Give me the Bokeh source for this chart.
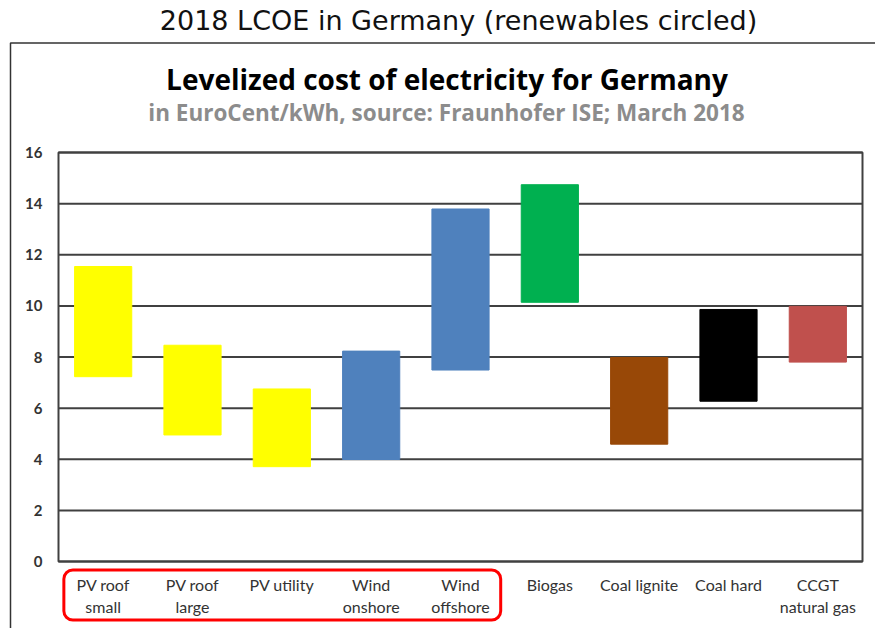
from bokeh.plotting import figure
from bokeh.models import ColumnDataSource, Label, BoxAnnotation, Range1d
from bokeh.core.properties import value
from bokeh.embed import file_html
from bokeh.resources import INLINE

categories = ["PV roof\nsmall", "PV roof\nlarge", "PV utility", "Wind\nonshore", "Wind\noffshore",
              "Biogas", "Coal lignite", "Coal hard", "CCGT\nnatural gas"]
lcoe_low = [7.23, 4.95, 3.71, 3.99, 7.49, 10.14, 4.59, 6.27, 7.80]
lcoe_high = [11.54, 8.46, 6.75, 8.23, 13.79, 14.74, 7.98, 9.86, 9.98]
bar_colors = ["#FFFF00", "#FFFF00", "#FFFF00", "#4F81BD", "#4F81BD",
              "#00B050", "#984807", "#000000", "#C0504D"]
y_ticks = [0, 2, 4, 6, 8, 10, 12, 14, 16]
renewables_count = 5

# ---- layout (pixels) ----
W, H = 875, 628
PL, PR, PT, PB = 58, 862, 152, 561          # plot-area edges on the canvas
n = len(categories)
y_min, y_max = min(y_ticks), max(y_ticks)
ux = (PR - PL) / n
uy = (PB - PT) / (y_max - y_min)
x_range = Range1d(-PL / ux, n + (W - PR) / ux)
y_range = Range1d(y_min - (H - PB) / uy, y_max + PT / uy)

centers = [i + 0.5 for i in range(n)]
src = ColumnDataSource(dict(x=centers, cat=categories, low=lcoe_low, high=lcoe_high, color=bar_colors))

p = figure(width=W, height=H, x_range=x_range, y_range=y_range, output_backend="svg",
           toolbar_location=None, x_axis_location=None, y_axis_location=None, min_border=0,
           background_fill_color="white", border_fill_color="white", outline_line_color=None)
p.grid.visible = False

# horizontal grid lines
p.segment(x0=0, x1=n, y0=y_ticks, y1=y_ticks, line_color="#404040", line_width=2)

# bars
p.vbar(x="x", bottom="low", top="high", width=0.64, fill_color="color", line_color="color",
       line_width=1, source=src)

# plot-area frame
p.quad(left=0, right=n, bottom=y_min, top=y_max, fill_color=None, line_color="#404040", line_width=2)

# y tick labels
p.text(x=0, y=y_ticks, text=[str(t) for t in y_ticks], x_offset=-16, text_align="right",
       text_baseline="middle", text_font=value("Lato"), text_font_style="bold",
       text_font_size="15px", text_color="#333333")

# category labels
p.text(x="x", y=y_min, text="cat", source=src, y_offset=13, text_align="center",
       text_baseline="top", text_font=value("Lato"), text_font_size="16px", text_color="#333333",
       text_line_height=1.18)

# outer frame of the embedded picture
p.add_layout(BoxAnnotation(left=10, right=960, top=42.5, bottom=900,
                           left_units="canvas", right_units="canvas",
                           top_units="canvas", bottom_units="canvas",
                           fill_color=None, fill_alpha=0, line_color="#333333", line_alpha=1,
                           line_width=1.5))

# red rounded box around renewables
p.add_layout(BoxAnnotation(left=0.06, right=renewables_count - 0.05, top=569.5, bottom=619.5,
                           top_units="canvas", bottom_units="canvas",
                           fill_color=None, fill_alpha=0, line_color="#FF0000", line_alpha=1,
                           line_width=3, border_radius=9))

p.add_layout(Label(x=458, y=20, x_units="canvas", y_units="canvas",
                   text="2018 LCOE in Germany (renewables circled)", text_align="center",
                   text_baseline="middle", text_font="DejaVu Sans", text_font_size="27px",
                   text_color="#111111"))
p.add_layout(Label(x=446.5, y=78, x_units="canvas", y_units="canvas",
                   text="Levelized cost of electricity for Germany", text_align="center",
                   text_baseline="middle", text_font="Open Sans", text_font_style="bold",
                   text_font_size="28px", text_color="#000000"))
p.add_layout(Label(x=446, y=112, x_units="canvas", y_units="canvas",
                   text="in EuroCent/kWh, source: Fraunhofer ISE; March 2018", text_align="center",
                   text_baseline="middle", text_font="Open Sans", text_font_style="bold",
                   text_font_size="22.5px", text_color="#8C8C8C"))

open("out.html", "w").write(file_html(p, INLINE))
